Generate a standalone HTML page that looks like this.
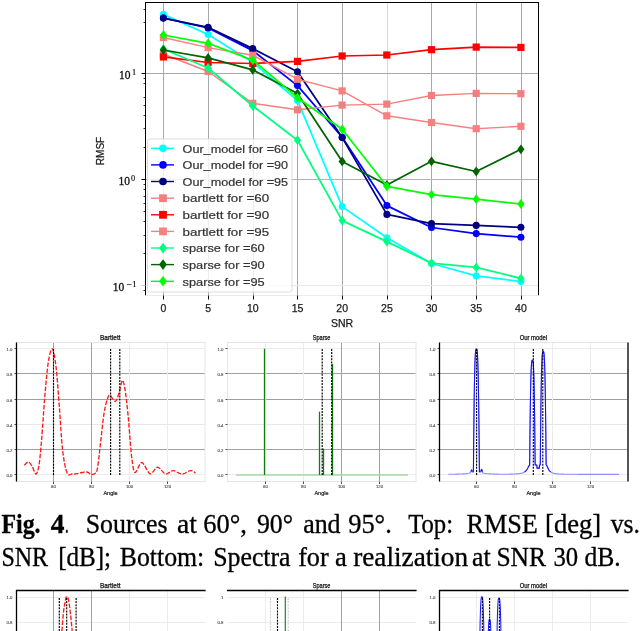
<!DOCTYPE html>
<html><head><meta charset="utf-8"><style>
html,body{margin:0;padding:0;background:#fff;overflow:hidden;}
svg{display:block;will-change:transform;}
.tick{font-family:"Liberation Sans",sans-serif;font-size:10.5px;fill:#1a1a1a;stroke:#1a1a1a;stroke-width:0.25px;}
.leg{font-family:"Liberation Sans",sans-serif;font-size:11.3px;fill:#333;stroke:#333;stroke-width:0.2px;}
.ml{font-family:"Liberation Serif",serif;font-size:11.5px;fill:#111;stroke:#111;stroke-width:0.3px;}
.mls{font-family:"Liberation Serif",serif;font-size:8.3px;fill:#111;stroke:#111;stroke-width:0.2px;}
.tiny{font-family:"Liberation Sans",sans-serif;font-size:4.3px;fill:#444;stroke:#444;stroke-width:0.1px;}
.tiny2{font-family:"Liberation Sans",sans-serif;font-size:5.5px;fill:#222;stroke:#222;stroke-width:0.2px;}
.ttl{font-family:"Liberation Sans",sans-serif;font-size:6.6px;fill:#111;stroke:#111;stroke-width:0.25px;}
.cap{font-family:"Liberation Serif",serif;font-size:26px;fill:#000;stroke:#000;stroke-width:0.3px;}
</style></head><body>
<svg width="640" height="631" viewBox="0 0 640 631">
<defs><clipPath id="clipmain"><rect x="145.5" y="2.5" width="393.0" height="293.0"/></clipPath></defs>
<rect width="640" height="631" fill="#fff"/>
<line x1="163.5" y1="2.5" x2="163.5" y2="295.5" stroke="#a8a8a8" stroke-width="1"/>
<line x1="208.5" y1="2.5" x2="208.5" y2="295.5" stroke="#a8a8a8" stroke-width="1"/>
<line x1="253.5" y1="2.5" x2="253.5" y2="295.5" stroke="#a8a8a8" stroke-width="1"/>
<line x1="297.5" y1="2.5" x2="297.5" y2="295.5" stroke="#a8a8a8" stroke-width="1"/>
<line x1="342.5" y1="2.5" x2="342.5" y2="295.5" stroke="#a8a8a8" stroke-width="1"/>
<line x1="387.5" y1="2.5" x2="387.5" y2="295.5" stroke="#d8d8d8" stroke-width="1"/>
<line x1="431.5" y1="2.5" x2="431.5" y2="295.5" stroke="#a8a8a8" stroke-width="1"/>
<line x1="476.5" y1="2.5" x2="476.5" y2="295.5" stroke="#a8a8a8" stroke-width="1"/>
<line x1="521.5" y1="2.5" x2="521.5" y2="295.5" stroke="#a8a8a8" stroke-width="1"/>
<line x1="145.5" y1="73.5" x2="538.5" y2="73.5" stroke="#a8a8a8" stroke-width="1"/>
<line x1="145.5" y1="179.5" x2="538.5" y2="179.5" stroke="#b4b4b4" stroke-width="1"/>
<line x1="145.5" y1="285.5" x2="538.5" y2="285.5" stroke="#e8e8e8" stroke-width="1"/>
<g clip-path="url(#clipmain)">
<polyline points="163.4,14.4 208.1,34.5 252.8,62.5 297.5,100.6 342.2,206.6 386.9,237.8 431.5,263.5 476.2,275.8 520.9,281.6" fill="none" stroke="#00ffff" stroke-width="1.75" stroke-linejoin="round"/>
<circle cx="163.4" cy="14.4" r="3.53" fill="#00ffff"/>
<circle cx="208.1" cy="34.5" r="3.53" fill="#00ffff"/>
<circle cx="252.8" cy="62.5" r="3.53" fill="#00ffff"/>
<circle cx="297.5" cy="100.6" r="3.53" fill="#00ffff"/>
<circle cx="342.2" cy="206.6" r="3.53" fill="#00ffff"/>
<circle cx="386.9" cy="237.8" r="3.53" fill="#00ffff"/>
<circle cx="431.5" cy="263.5" r="3.53" fill="#00ffff"/>
<circle cx="476.2" cy="275.8" r="3.53" fill="#00ffff"/>
<circle cx="520.9" cy="281.6" r="3.53" fill="#00ffff"/>
<polyline points="163.4,18.0 208.1,28.0 252.8,50.6 297.5,85.6 342.2,137.2 386.9,205.6 431.5,227.5 476.2,233.6 520.9,237.2" fill="none" stroke="#0000ff" stroke-width="1.75" stroke-linejoin="round"/>
<circle cx="163.4" cy="18.0" r="3.53" fill="#0000ff"/>
<circle cx="208.1" cy="28.0" r="3.53" fill="#0000ff"/>
<circle cx="252.8" cy="50.6" r="3.53" fill="#0000ff"/>
<circle cx="297.5" cy="85.6" r="3.53" fill="#0000ff"/>
<circle cx="342.2" cy="137.2" r="3.53" fill="#0000ff"/>
<circle cx="386.9" cy="205.6" r="3.53" fill="#0000ff"/>
<circle cx="431.5" cy="227.5" r="3.53" fill="#0000ff"/>
<circle cx="476.2" cy="233.6" r="3.53" fill="#0000ff"/>
<circle cx="520.9" cy="237.2" r="3.53" fill="#0000ff"/>
<polyline points="163.4,18.1 208.1,27.3 252.8,48.6 297.5,71.8 342.2,137.6 386.9,214.4 431.5,223.6 476.2,225.4 520.9,227.3" fill="none" stroke="#000080" stroke-width="1.75" stroke-linejoin="round"/>
<circle cx="163.4" cy="18.1" r="3.53" fill="#000080"/>
<circle cx="208.1" cy="27.3" r="3.53" fill="#000080"/>
<circle cx="252.8" cy="48.6" r="3.53" fill="#000080"/>
<circle cx="297.5" cy="71.8" r="3.53" fill="#000080"/>
<circle cx="342.2" cy="137.6" r="3.53" fill="#000080"/>
<circle cx="386.9" cy="214.4" r="3.53" fill="#000080"/>
<circle cx="431.5" cy="223.6" r="3.53" fill="#000080"/>
<circle cx="476.2" cy="225.4" r="3.53" fill="#000080"/>
<circle cx="520.9" cy="227.3" r="3.53" fill="#000080"/>
<polyline points="163.4,54.0 208.1,71.5 252.8,103.3 297.5,109.8 342.2,105.1 386.9,104.1 431.5,95.5 476.2,93.4 520.9,93.7" fill="none" stroke="#f08080" stroke-width="1.45" stroke-linejoin="round"/>
<rect x="159.8" y="50.4" width="7.2" height="7.2" fill="#f08080"/>
<rect x="204.5" y="67.9" width="7.2" height="7.2" fill="#f08080"/>
<rect x="249.2" y="99.7" width="7.2" height="7.2" fill="#f08080"/>
<rect x="293.9" y="106.2" width="7.2" height="7.2" fill="#f08080"/>
<rect x="338.5" y="101.5" width="7.2" height="7.2" fill="#f08080"/>
<rect x="383.2" y="100.5" width="7.2" height="7.2" fill="#f08080"/>
<rect x="427.9" y="91.9" width="7.2" height="7.2" fill="#f08080"/>
<rect x="472.6" y="89.8" width="7.2" height="7.2" fill="#f08080"/>
<rect x="517.3" y="90.1" width="7.2" height="7.2" fill="#f08080"/>
<polyline points="163.4,56.9 208.1,62.5 252.8,63.5 297.5,61.4 342.2,56.0 386.9,55.0 431.5,49.7 476.2,47.1 520.9,47.4" fill="none" stroke="#ff0000" stroke-width="1.75" stroke-linejoin="round"/>
<rect x="159.8" y="53.3" width="7.2" height="7.2" fill="#ff0000"/>
<rect x="204.5" y="58.9" width="7.2" height="7.2" fill="#ff0000"/>
<rect x="249.2" y="59.9" width="7.2" height="7.2" fill="#ff0000"/>
<rect x="293.9" y="57.8" width="7.2" height="7.2" fill="#ff0000"/>
<rect x="338.5" y="52.4" width="7.2" height="7.2" fill="#ff0000"/>
<rect x="383.2" y="51.4" width="7.2" height="7.2" fill="#ff0000"/>
<rect x="427.9" y="46.1" width="7.2" height="7.2" fill="#ff0000"/>
<rect x="472.6" y="43.5" width="7.2" height="7.2" fill="#ff0000"/>
<rect x="517.3" y="43.8" width="7.2" height="7.2" fill="#ff0000"/>
<polyline points="163.4,37.5 208.1,47.6 252.8,55.3 297.5,79.2 342.2,90.9 386.9,115.8 431.5,122.5 476.2,128.7 520.9,126.3" fill="none" stroke="#f88080" stroke-width="1.45" stroke-linejoin="round"/>
<rect x="159.8" y="33.9" width="7.2" height="7.2" fill="#f88080"/>
<rect x="204.5" y="44.0" width="7.2" height="7.2" fill="#f88080"/>
<rect x="249.2" y="51.7" width="7.2" height="7.2" fill="#f88080"/>
<rect x="293.9" y="75.6" width="7.2" height="7.2" fill="#f88080"/>
<rect x="338.5" y="87.3" width="7.2" height="7.2" fill="#f88080"/>
<rect x="383.2" y="112.2" width="7.2" height="7.2" fill="#f88080"/>
<rect x="427.9" y="118.9" width="7.2" height="7.2" fill="#f88080"/>
<rect x="472.6" y="125.1" width="7.2" height="7.2" fill="#f88080"/>
<rect x="517.3" y="122.7" width="7.2" height="7.2" fill="#f88080"/>
<polyline points="163.4,49.0 208.1,68.0 252.8,106.0 297.5,140.2 342.2,220.6 386.9,241.6 431.5,263.2 476.2,267.4 520.9,278.4" fill="none" stroke="#00ff7f" stroke-width="1.75" stroke-linejoin="round"/>
<path d="M163.4 44.1L167.0 49.0L163.4 53.9L159.8 49.0Z" fill="#00ff7f"/>
<path d="M208.1 63.1L211.7 68.0L208.1 72.9L204.5 68.0Z" fill="#00ff7f"/>
<path d="M252.8 101.1L256.4 106.0L252.8 110.9L249.2 106.0Z" fill="#00ff7f"/>
<path d="M297.5 135.3L301.1 140.2L297.5 145.1L293.9 140.2Z" fill="#00ff7f"/>
<path d="M342.2 215.7L345.8 220.6L342.2 225.5L338.5 220.6Z" fill="#00ff7f"/>
<path d="M386.9 236.7L390.5 241.6L386.9 246.5L383.2 241.6Z" fill="#00ff7f"/>
<path d="M431.5 258.3L435.1 263.2L431.5 268.1L427.9 263.2Z" fill="#00ff7f"/>
<path d="M476.2 262.5L479.8 267.4L476.2 272.3L472.6 267.4Z" fill="#00ff7f"/>
<path d="M520.9 273.5L524.5 278.4L520.9 283.3L517.3 278.4Z" fill="#00ff7f"/>
<polyline points="163.4,50.0 208.1,57.9 252.8,69.9 297.5,93.5 342.2,161.4 386.9,184.9 431.5,161.3 476.2,171.5 520.9,149.3" fill="none" stroke="#006400" stroke-width="1.75" stroke-linejoin="round"/>
<path d="M163.4 45.1L167.0 50.0L163.4 54.9L159.8 50.0Z" fill="#006400"/>
<path d="M208.1 53.0L211.7 57.9L208.1 62.8L204.5 57.9Z" fill="#006400"/>
<path d="M252.8 65.0L256.4 69.9L252.8 74.8L249.2 69.9Z" fill="#006400"/>
<path d="M297.5 88.6L301.1 93.5L297.5 98.4L293.9 93.5Z" fill="#006400"/>
<path d="M342.2 156.5L345.8 161.4L342.2 166.3L338.5 161.4Z" fill="#006400"/>
<path d="M386.9 180.0L390.5 184.9L386.9 189.8L383.2 184.9Z" fill="#006400"/>
<path d="M431.5 156.4L435.1 161.3L431.5 166.2L427.9 161.3Z" fill="#006400"/>
<path d="M476.2 166.6L479.8 171.5L476.2 176.4L472.6 171.5Z" fill="#006400"/>
<path d="M520.9 144.4L524.5 149.3L520.9 154.2L517.3 149.3Z" fill="#006400"/>
<polyline points="163.4,35.0 208.1,43.3 252.8,60.2 297.5,97.7 342.2,129.3 386.9,186.3 431.5,194.6 476.2,199.2 520.9,204.0" fill="none" stroke="#00ff00" stroke-width="1.75" stroke-linejoin="round"/>
<path d="M163.4 30.1L167.0 35.0L163.4 39.9L159.8 35.0Z" fill="#00ff00"/>
<path d="M208.1 38.4L211.7 43.3L208.1 48.2L204.5 43.3Z" fill="#00ff00"/>
<path d="M252.8 55.3L256.4 60.2L252.8 65.1L249.2 60.2Z" fill="#00ff00"/>
<path d="M297.5 92.8L301.1 97.7L297.5 102.6L293.9 97.7Z" fill="#00ff00"/>
<path d="M342.2 124.4L345.8 129.3L342.2 134.2L338.5 129.3Z" fill="#00ff00"/>
<path d="M386.9 181.4L390.5 186.3L386.9 191.2L383.2 186.3Z" fill="#00ff00"/>
<path d="M431.5 189.7L435.1 194.6L431.5 199.5L427.9 194.6Z" fill="#00ff00"/>
<path d="M476.2 194.3L479.8 199.2L476.2 204.1L472.6 199.2Z" fill="#00ff00"/>
<path d="M520.9 199.1L524.5 204.0L520.9 208.9L517.3 204.0Z" fill="#00ff00"/>
</g>
<rect x="147.5" y="139.0" width="144.5" height="153.0" rx="2.5" fill="#ffffff" fill-opacity="0.8" stroke="#dcdcdc" stroke-width="1"/>
<line x1="151" y1="148.3" x2="174" y2="148.3" stroke="#00ffff" stroke-width="1.4"/>
<circle cx="163.0" cy="148.3" r="3.81" fill="#00ffff"/>
<text x="182.6" y="152.5" class="leg" textLength="105.5" lengthAdjust="spacingAndGlyphs">Our_model for =60</text>
<line x1="151" y1="164.9" x2="174" y2="164.9" stroke="#0000ff" stroke-width="1.4"/>
<circle cx="163.0" cy="164.9" r="3.81" fill="#0000ff"/>
<text x="182.6" y="169.1" class="leg" textLength="105.5" lengthAdjust="spacingAndGlyphs">Our_model for =90</text>
<line x1="151" y1="181.5" x2="174" y2="181.5" stroke="#000080" stroke-width="1.4"/>
<circle cx="163.0" cy="181.5" r="3.81" fill="#000080"/>
<text x="182.6" y="185.7" class="leg" textLength="105.5" lengthAdjust="spacingAndGlyphs">Our_model for =95</text>
<line x1="151" y1="198.2" x2="174" y2="198.2" stroke="#f08080" stroke-width="1.4"/>
<rect x="159.1" y="194.3" width="7.8" height="7.8" fill="#f08080"/>
<text x="182.6" y="202.4" class="leg" textLength="86.5" lengthAdjust="spacingAndGlyphs">bartlett for =60</text>
<line x1="151" y1="214.8" x2="174" y2="214.8" stroke="#ff0000" stroke-width="1.4"/>
<rect x="159.1" y="210.9" width="7.8" height="7.8" fill="#ff0000"/>
<text x="182.6" y="219.0" class="leg" textLength="86.5" lengthAdjust="spacingAndGlyphs">bartlett for =90</text>
<line x1="151" y1="231.4" x2="174" y2="231.4" stroke="#f88080" stroke-width="1.4"/>
<rect x="159.1" y="227.5" width="7.8" height="7.8" fill="#f88080"/>
<text x="182.6" y="235.6" class="leg" textLength="86.5" lengthAdjust="spacingAndGlyphs">bartlett for =95</text>
<line x1="151" y1="248.0" x2="174" y2="248.0" stroke="#00ff7f" stroke-width="1.4"/>
<path d="M163.0 242.7L166.9 248.0L163.0 253.4L159.1 248.0Z" fill="#00ff7f"/>
<text x="182.6" y="252.2" class="leg" textLength="82.0" lengthAdjust="spacingAndGlyphs">sparse for =60</text>
<line x1="151" y1="264.6" x2="174" y2="264.6" stroke="#006400" stroke-width="1.4"/>
<path d="M163.0 259.3L166.9 264.6L163.0 270.0L159.1 264.6Z" fill="#006400"/>
<text x="182.6" y="268.8" class="leg" textLength="82.0" lengthAdjust="spacingAndGlyphs">sparse for =90</text>
<line x1="151" y1="281.3" x2="174" y2="281.3" stroke="#00ff00" stroke-width="1.4"/>
<path d="M163.0 275.9L166.9 281.3L163.0 286.6L159.1 281.3Z" fill="#00ff00"/>
<text x="182.6" y="285.5" class="leg" textLength="82.0" lengthAdjust="spacingAndGlyphs">sparse for =95</text>
<line x1="145.0" y1="2.5" x2="539.0" y2="2.5" stroke="#000" stroke-width="1"/>
<line x1="145.5" y1="2.5" x2="145.5" y2="295.5" stroke="#000" stroke-width="1"/>
<line x1="538.5" y1="2.5" x2="538.5" y2="295.5" stroke="#000" stroke-width="1"/>
<line x1="145.5" y1="295.5" x2="538.5" y2="295.5" stroke="#ececec" stroke-width="1"/>
<line x1="163.5" y1="295.5" x2="163.5" y2="299.5" stroke="#000" stroke-width="1"/>
<text x="163.4" y="311.6" class="tick" text-anchor="middle">0</text>
<line x1="208.5" y1="295.5" x2="208.5" y2="299.5" stroke="#000" stroke-width="1"/>
<text x="208.1" y="311.6" class="tick" text-anchor="middle">5</text>
<line x1="253.5" y1="295.5" x2="253.5" y2="299.5" stroke="#000" stroke-width="1"/>
<text x="252.8" y="311.6" class="tick" text-anchor="middle">10</text>
<line x1="297.5" y1="295.5" x2="297.5" y2="299.5" stroke="#000" stroke-width="1"/>
<text x="297.5" y="311.6" class="tick" text-anchor="middle">15</text>
<line x1="342.5" y1="295.5" x2="342.5" y2="299.5" stroke="#000" stroke-width="1"/>
<text x="342.2" y="311.6" class="tick" text-anchor="middle">20</text>
<line x1="387.5" y1="295.5" x2="387.5" y2="299.5" stroke="#000" stroke-width="1"/>
<text x="386.9" y="311.6" class="tick" text-anchor="middle">25</text>
<line x1="431.5" y1="295.5" x2="431.5" y2="299.5" stroke="#000" stroke-width="1"/>
<text x="431.5" y="311.6" class="tick" text-anchor="middle">30</text>
<line x1="476.5" y1="295.5" x2="476.5" y2="299.5" stroke="#000" stroke-width="1"/>
<text x="476.2" y="311.6" class="tick" text-anchor="middle">35</text>
<line x1="521.5" y1="295.5" x2="521.5" y2="299.5" stroke="#000" stroke-width="1"/>
<text x="520.9" y="311.6" class="tick" text-anchor="middle">40</text>
<text x="342" y="327.3" class="tick" text-anchor="middle">SNR</text>
<line x1="141.5" y1="73.5" x2="145.5" y2="73.5" stroke="#000" stroke-width="1"/>
<line x1="141.5" y1="179.5" x2="145.5" y2="179.5" stroke="#000" stroke-width="1"/>
<line x1="141.5" y1="285.5" x2="145.5" y2="285.5" stroke="#c8c8c8" stroke-width="1"/>
<line x1="143.5" y1="22.5" x2="145.5" y2="22.5" stroke="#000" stroke-width="0.8"/>
<line x1="143.5" y1="9.5" x2="145.5" y2="9.5" stroke="#000" stroke-width="0.8"/>
<line x1="143.5" y1="147.5" x2="145.5" y2="147.5" stroke="#000" stroke-width="0.8"/>
<line x1="143.5" y1="128.5" x2="145.5" y2="128.5" stroke="#000" stroke-width="0.8"/>
<line x1="143.5" y1="115.5" x2="145.5" y2="115.5" stroke="#000" stroke-width="0.8"/>
<line x1="143.5" y1="105.5" x2="145.5" y2="105.5" stroke="#000" stroke-width="0.8"/>
<line x1="143.5" y1="97.5" x2="145.5" y2="97.5" stroke="#000" stroke-width="0.8"/>
<line x1="143.5" y1="83.5" x2="145.5" y2="83.5" stroke="#000" stroke-width="0.8"/>
<line x1="143.5" y1="78.5" x2="145.5" y2="78.5" stroke="#000" stroke-width="0.8"/>
<line x1="143.5" y1="253.5" x2="145.5" y2="253.5" stroke="#000" stroke-width="0.8"/>
<line x1="143.5" y1="235.5" x2="145.5" y2="235.5" stroke="#000" stroke-width="0.8"/>
<line x1="143.5" y1="221.5" x2="145.5" y2="221.5" stroke="#000" stroke-width="0.8"/>
<line x1="143.5" y1="211.5" x2="145.5" y2="211.5" stroke="#000" stroke-width="0.8"/>
<line x1="143.5" y1="203.5" x2="145.5" y2="203.5" stroke="#000" stroke-width="0.8"/>
<line x1="143.5" y1="196.5" x2="145.5" y2="196.5" stroke="#000" stroke-width="0.8"/>
<line x1="143.5" y1="189.5" x2="145.5" y2="189.5" stroke="#000" stroke-width="0.8"/>
<line x1="143.5" y1="184.5" x2="145.5" y2="184.5" stroke="#000" stroke-width="0.8"/>
<line x1="143.5" y1="290.5" x2="145.5" y2="290.5" stroke="#000" stroke-width="0.8"/>
<text x="119" y="79" class="ml" textLength="11.5" lengthAdjust="spacingAndGlyphs">10</text><text x="132" y="75" class="mls">1</text>
<text x="118.5" y="185" class="ml" textLength="11.5" lengthAdjust="spacingAndGlyphs">10</text><text x="131" y="180.6" class="mls">0</text>
<text x="112.8" y="290.8" class="ml" textLength="11.5" lengthAdjust="spacingAndGlyphs">10</text><text x="126.8" y="287.3" class="mls" textLength="10" lengthAdjust="spacingAndGlyphs">−1</text>
<text transform="translate(104,151) rotate(-90)" class="tick" text-anchor="middle" textLength="28.5" lengthAdjust="spacingAndGlyphs">RMSF</text>
<line x1="16.5" y1="348.5" x2="205.0" y2="348.5" stroke="#ececec" stroke-width="1"/>
<line x1="16.5" y1="373.5" x2="205.0" y2="373.5" stroke="#a0a0a0" stroke-width="1"/>
<line x1="16.5" y1="399.5" x2="205.0" y2="399.5" stroke="#a0a0a0" stroke-width="1"/>
<line x1="16.5" y1="424.5" x2="205.0" y2="424.5" stroke="#e8e8e8" stroke-width="1"/>
<line x1="16.5" y1="449.5" x2="205.0" y2="449.5" stroke="#a0a0a0" stroke-width="1"/>
<line x1="16.5" y1="474.5" x2="205.0" y2="474.5" stroke="#ececec" stroke-width="1"/>
<line x1="53.5" y1="342.5" x2="53.5" y2="481.5" stroke="#a0a0a0" stroke-width="1"/>
<line x1="91.5" y1="342.5" x2="91.5" y2="481.5" stroke="#a0a0a0" stroke-width="1"/>
<line x1="129.5" y1="342.5" x2="129.5" y2="481.5" stroke="#ececec" stroke-width="1"/>
<line x1="167.5" y1="342.5" x2="167.5" y2="481.5" stroke="#ececec" stroke-width="1"/>
<rect x="16.5" y="342.5" width="188.5" height="139.0" fill="none" stroke="#e6e6e6" stroke-width="1"/>
<text x="12.5" y="350.7" class="tiny" text-anchor="end">1.0</text>
<line x1="14.5" y1="348.5" x2="16.5" y2="348.5" stroke="#000" stroke-width="0.7"/>
<text x="12.5" y="375.7" class="tiny" text-anchor="end">0.8</text>
<line x1="14.5" y1="373.5" x2="16.5" y2="373.5" stroke="#000" stroke-width="0.7"/>
<text x="12.5" y="401.7" class="tiny" text-anchor="end">0.6</text>
<line x1="14.5" y1="399.5" x2="16.5" y2="399.5" stroke="#000" stroke-width="0.7"/>
<text x="12.5" y="426.7" class="tiny" text-anchor="end">0.4</text>
<line x1="14.5" y1="424.5" x2="16.5" y2="424.5" stroke="#000" stroke-width="0.7"/>
<text x="12.5" y="451.7" class="tiny" text-anchor="end">0.2</text>
<line x1="14.5" y1="449.5" x2="16.5" y2="449.5" stroke="#000" stroke-width="0.7"/>
<text x="12.5" y="476.7" class="tiny" text-anchor="end">0.0</text>
<line x1="14.5" y1="474.5" x2="16.5" y2="474.5" stroke="#000" stroke-width="0.7"/>
<text x="53.5" y="487.8" class="tiny" text-anchor="middle">60</text>
<line x1="53.5" y1="481.5" x2="53.5" y2="484" stroke="#000" stroke-width="0.7"/>
<text x="91.5" y="487.8" class="tiny" text-anchor="middle">80</text>
<line x1="91.5" y1="481.5" x2="91.5" y2="484" stroke="#000" stroke-width="0.7"/>
<text x="129.5" y="487.8" class="tiny" text-anchor="middle">100</text>
<line x1="129.5" y1="481.5" x2="129.5" y2="484" stroke="#000" stroke-width="0.7"/>
<text x="167.5" y="487.8" class="tiny" text-anchor="middle">120</text>
<line x1="167.5" y1="481.5" x2="167.5" y2="484" stroke="#000" stroke-width="0.7"/>
<text x="110.5" y="495" class="tiny2" text-anchor="middle">Angle</text>
<line x1="227.5" y1="348.5" x2="416.0" y2="348.5" stroke="#ececec" stroke-width="1"/>
<line x1="227.5" y1="373.5" x2="416.0" y2="373.5" stroke="#a0a0a0" stroke-width="1"/>
<line x1="227.5" y1="399.5" x2="416.0" y2="399.5" stroke="#a0a0a0" stroke-width="1"/>
<line x1="227.5" y1="424.5" x2="416.0" y2="424.5" stroke="#e8e8e8" stroke-width="1"/>
<line x1="227.5" y1="449.5" x2="416.0" y2="449.5" stroke="#a0a0a0" stroke-width="1"/>
<line x1="227.5" y1="474.5" x2="416.0" y2="474.5" stroke="#ececec" stroke-width="1"/>
<line x1="265.5" y1="342.5" x2="265.5" y2="481.5" stroke="#ececec" stroke-width="1"/>
<line x1="303.5" y1="342.5" x2="303.5" y2="481.5" stroke="#ececec" stroke-width="1"/>
<line x1="341.5" y1="342.5" x2="341.5" y2="481.5" stroke="#a0a0a0" stroke-width="1"/>
<line x1="379.5" y1="342.5" x2="379.5" y2="481.5" stroke="#a0a0a0" stroke-width="1"/>
<rect x="227.5" y="342.5" width="188.5" height="139.0" fill="none" stroke="#e6e6e6" stroke-width="1"/>
<text x="223.5" y="350.7" class="tiny" text-anchor="end">1.0</text>
<line x1="225.5" y1="348.5" x2="227.5" y2="348.5" stroke="#000" stroke-width="0.7"/>
<text x="223.5" y="375.7" class="tiny" text-anchor="end">0.8</text>
<line x1="225.5" y1="373.5" x2="227.5" y2="373.5" stroke="#000" stroke-width="0.7"/>
<text x="223.5" y="401.7" class="tiny" text-anchor="end">0.6</text>
<line x1="225.5" y1="399.5" x2="227.5" y2="399.5" stroke="#000" stroke-width="0.7"/>
<text x="223.5" y="426.7" class="tiny" text-anchor="end">0.4</text>
<line x1="225.5" y1="424.5" x2="227.5" y2="424.5" stroke="#000" stroke-width="0.7"/>
<text x="223.5" y="451.7" class="tiny" text-anchor="end">0.2</text>
<line x1="225.5" y1="449.5" x2="227.5" y2="449.5" stroke="#000" stroke-width="0.7"/>
<text x="223.5" y="476.7" class="tiny" text-anchor="end">0.0</text>
<line x1="225.5" y1="474.5" x2="227.5" y2="474.5" stroke="#000" stroke-width="0.7"/>
<text x="265.5" y="487.8" class="tiny" text-anchor="middle">60</text>
<line x1="265.5" y1="481.5" x2="265.5" y2="484" stroke="#000" stroke-width="0.7"/>
<text x="303.5" y="487.8" class="tiny" text-anchor="middle">80</text>
<line x1="303.5" y1="481.5" x2="303.5" y2="484" stroke="#000" stroke-width="0.7"/>
<text x="341.5" y="487.8" class="tiny" text-anchor="middle">100</text>
<line x1="341.5" y1="481.5" x2="341.5" y2="484" stroke="#000" stroke-width="0.7"/>
<text x="379.5" y="487.8" class="tiny" text-anchor="middle">120</text>
<line x1="379.5" y1="481.5" x2="379.5" y2="484" stroke="#000" stroke-width="0.7"/>
<text x="321.5" y="495" class="tiny2" text-anchor="middle">Angle</text>
<line x1="439.5" y1="348.5" x2="628.0" y2="348.5" stroke="#ececec" stroke-width="1"/>
<line x1="439.5" y1="373.5" x2="628.0" y2="373.5" stroke="#a0a0a0" stroke-width="1"/>
<line x1="439.5" y1="399.5" x2="628.0" y2="399.5" stroke="#a0a0a0" stroke-width="1"/>
<line x1="439.5" y1="424.5" x2="628.0" y2="424.5" stroke="#e8e8e8" stroke-width="1"/>
<line x1="439.5" y1="449.5" x2="628.0" y2="449.5" stroke="#a0a0a0" stroke-width="1"/>
<line x1="439.5" y1="474.5" x2="628.0" y2="474.5" stroke="#ececec" stroke-width="1"/>
<line x1="476.5" y1="342.5" x2="476.5" y2="481.5" stroke="#ececec" stroke-width="1"/>
<line x1="514.5" y1="342.5" x2="514.5" y2="481.5" stroke="#ececec" stroke-width="1"/>
<line x1="552.5" y1="342.5" x2="552.5" y2="481.5" stroke="#ececec" stroke-width="1"/>
<line x1="590.5" y1="342.5" x2="590.5" y2="481.5" stroke="#ececec" stroke-width="1"/>
<rect x="439.5" y="342.5" width="188.5" height="139.0" fill="none" stroke="#e6e6e6" stroke-width="1"/>
<text x="435.5" y="350.7" class="tiny" text-anchor="end">1.0</text>
<line x1="437.5" y1="348.5" x2="439.5" y2="348.5" stroke="#000" stroke-width="0.7"/>
<text x="435.5" y="375.7" class="tiny" text-anchor="end">0.8</text>
<line x1="437.5" y1="373.5" x2="439.5" y2="373.5" stroke="#000" stroke-width="0.7"/>
<text x="435.5" y="401.7" class="tiny" text-anchor="end">0.6</text>
<line x1="437.5" y1="399.5" x2="439.5" y2="399.5" stroke="#000" stroke-width="0.7"/>
<text x="435.5" y="426.7" class="tiny" text-anchor="end">0.4</text>
<line x1="437.5" y1="424.5" x2="439.5" y2="424.5" stroke="#000" stroke-width="0.7"/>
<text x="435.5" y="451.7" class="tiny" text-anchor="end">0.2</text>
<line x1="437.5" y1="449.5" x2="439.5" y2="449.5" stroke="#000" stroke-width="0.7"/>
<text x="435.5" y="476.7" class="tiny" text-anchor="end">0.0</text>
<line x1="437.5" y1="474.5" x2="439.5" y2="474.5" stroke="#000" stroke-width="0.7"/>
<text x="476.5" y="487.8" class="tiny" text-anchor="middle">60</text>
<line x1="476.5" y1="481.5" x2="476.5" y2="484" stroke="#000" stroke-width="0.7"/>
<text x="514.5" y="487.8" class="tiny" text-anchor="middle">80</text>
<line x1="514.5" y1="481.5" x2="514.5" y2="484" stroke="#000" stroke-width="0.7"/>
<text x="552.5" y="487.8" class="tiny" text-anchor="middle">100</text>
<line x1="552.5" y1="481.5" x2="552.5" y2="484" stroke="#000" stroke-width="0.7"/>
<text x="590.5" y="487.8" class="tiny" text-anchor="middle">120</text>
<line x1="590.5" y1="481.5" x2="590.5" y2="484" stroke="#000" stroke-width="0.7"/>
<text x="533.5" y="495" class="tiny2" text-anchor="middle">Angle</text>
<line x1="16.5" y1="342.5" x2="16.5" y2="481.5" stroke="#000" stroke-width="1.3"/>
<line x1="439.5" y1="342.5" x2="439.5" y2="481.5" stroke="#000" stroke-width="1.3"/>
<line x1="628" y1="342.5" x2="628" y2="481.5" stroke="#000" stroke-width="1.3"/>
<text x="110.3" y="340" class="ttl" text-anchor="middle" textLength="20.6" lengthAdjust="spacingAndGlyphs">Bartlett</text>
<text x="321.6" y="340" class="ttl" text-anchor="middle" textLength="17.7" lengthAdjust="spacingAndGlyphs">Sparse</text>
<text x="533.4" y="340" class="ttl" text-anchor="middle" textLength="27.4" lengthAdjust="spacingAndGlyphs">Our model</text>
<path d="M24.30 465.30C24.97 464.75 27.02 461.88 28.30 462.00C29.58 462.12 30.72 463.98 32.00 466.00C33.28 468.02 34.83 474.27 36.00 474.10C37.17 473.93 38.07 470.72 39.00 465.00C39.93 459.28 40.62 451.40 41.60 439.80C42.58 428.20 43.78 408.33 44.90 395.40C46.02 382.47 47.07 369.95 48.30 362.20C49.53 354.45 51.02 348.17 52.30 348.90C53.58 349.63 54.83 357.00 56.00 366.60C57.17 376.20 58.18 392.45 59.30 406.50C60.42 420.55 61.40 439.82 62.70 450.90C64.00 461.98 65.55 469.15 67.10 473.00C68.65 476.85 70.35 473.90 72.00 474.00C73.65 474.10 75.33 473.85 77.00 473.60C78.67 473.35 80.33 472.77 82.00 472.50C83.67 472.23 85.50 471.72 87.00 472.00C88.50 472.28 89.67 473.95 91.00 474.20C92.33 474.45 93.92 474.53 95.00 473.50C96.08 472.47 96.58 473.03 97.50 468.00C98.42 462.97 99.42 452.37 100.50 443.30C101.58 434.23 102.83 421.02 104.00 413.60C105.17 406.18 106.50 401.85 107.50 398.80C108.50 395.75 108.70 394.87 110.00 395.30C111.30 395.73 113.80 401.78 115.30 401.40C116.80 401.02 117.83 396.48 119.00 393.00C120.17 389.52 121.33 381.33 122.30 380.50C123.27 379.67 124.08 384.52 124.80 388.00C125.52 391.48 125.98 396.07 126.60 401.40C127.22 406.73 127.92 413.60 128.50 420.00C129.08 426.40 129.53 433.34 130.10 439.80C130.67 446.26 131.08 453.30 131.90 458.75C132.72 464.20 133.33 471.88 135.00 472.50C136.67 473.12 139.40 462.29 141.90 462.50C144.40 462.71 147.40 472.96 150.00 473.75C152.60 474.54 154.90 467.21 157.50 467.25C160.10 467.29 163.00 473.44 165.60 474.00C168.20 474.56 170.38 470.60 173.10 470.60C175.82 470.60 178.98 474.00 181.90 474.00C184.82 474.00 188.32 470.75 190.60 470.60C192.88 470.45 194.77 472.68 195.60 473.10" fill="none" stroke="#ff1a1a" stroke-width="1.35" stroke-dasharray="4.5,1.6" />
<line x1="236" y1="475" x2="408" y2="475" stroke="#a6daa6" stroke-width="1.6"/>
<line x1="264.5" y1="348.7" x2="264.5" y2="475" stroke="#0f7f0f" stroke-width="1.3"/>
<line x1="319.5" y1="411.6" x2="319.5" y2="475" stroke="#0f7f0f" stroke-width="1.3"/>
<line x1="323.5" y1="448.6" x2="323.5" y2="475" stroke="#0f7f0f" stroke-width="1.3"/>
<line x1="332.5" y1="364.0" x2="332.5" y2="475" stroke="#0f7f0f" stroke-width="1.3"/>
<polyline points="448.30,474.27 449.30,474.26 450.30,474.25 451.30,474.24 452.30,474.23 453.30,474.21 454.30,474.20 455.30,474.18 456.30,474.16 457.30,474.13 458.30,474.10 459.30,474.07 460.30,474.03 461.30,473.99 462.30,473.94 463.30,473.87 464.30,473.80 465.30,473.71 466.30,473.60 467.30,473.46 468.30,473.29 469.30,473.08 469.40,473.06 469.50,473.03 469.60,473.01 469.70,472.99 469.80,472.96 469.90,472.93 470.00,472.91 470.10,472.88 470.20,472.85 470.30,472.82 470.40,472.80 470.50,472.77 470.60,472.74 470.70,472.45 470.80,472.08 470.90,471.71 471.00,471.34 471.10,470.98 471.20,470.66 471.30,470.39 471.40,470.18 471.50,470.05 471.60,470.01 471.70,470.05 471.80,470.18 471.90,470.39 472.00,470.66 472.10,470.98 472.20,471.34 472.30,471.71 472.40,472.08 472.50,472.06 472.60,472.02 472.70,471.98 472.80,471.94 472.90,471.90 473.00,471.86 473.10,471.82 473.20,471.77 473.30,471.73 473.40,471.69 473.50,462.26 473.60,450.94 473.70,440.39 473.80,430.60 473.90,421.53 474.00,413.16 474.10,405.45 474.20,398.39 474.30,391.95 474.40,386.09 474.50,380.78 474.60,376.01 474.70,371.74 474.80,367.94 474.90,364.59 475.00,361.65 475.10,359.11 475.20,356.93 475.30,355.09 475.40,353.55 475.50,352.29 475.60,351.28 475.70,350.49 475.80,349.90 475.90,349.48 476.00,349.20 476.10,349.03 476.20,348.94 476.30,348.90 476.40,348.90 476.50,348.90 476.60,348.94 476.70,349.03 476.80,349.20 476.90,349.48 477.00,349.90 477.10,350.49 477.20,351.28 477.30,352.29 477.40,353.55 477.50,355.09 477.60,356.93 477.70,359.11 477.80,361.65 477.90,364.59 478.00,367.94 478.10,371.74 478.20,376.01 478.30,380.78 478.40,386.09 478.50,391.95 478.60,398.39 478.70,405.45 478.80,413.16 478.90,421.53 479.00,430.60 479.10,440.39 479.20,450.94 479.30,462.26 479.40,471.69 479.50,471.73 479.60,471.77 479.70,471.82 479.80,471.86 479.90,471.90 480.00,471.94 480.10,471.98 480.20,472.02 480.30,472.06 480.40,472.10 480.50,472.14 480.60,472.18 480.70,472.17 480.80,471.75 480.90,471.32 481.00,470.90 481.10,470.49 481.20,470.12 481.30,469.81 481.40,469.58 481.50,469.43 481.60,469.38 481.70,469.43 481.80,469.58 481.90,469.81 482.00,470.12 482.10,470.49 482.20,470.90 482.30,471.32 482.40,471.75 482.50,472.17 482.60,472.55 482.70,472.88 482.80,472.91 482.90,472.93 483.00,472.96 483.10,472.99 483.20,473.01 483.30,473.03 483.40,473.06 483.50,473.08 483.60,473.11 483.70,473.13 483.80,473.15 483.90,473.17 484.00,473.19 484.10,473.21 484.20,473.23 484.30,473.25 485.30,473.43 486.30,473.57 487.30,473.69 488.30,473.78 489.30,473.86 490.30,473.92 491.30,473.98 492.30,474.02 493.30,474.06 494.30,474.10 495.30,474.13 496.30,474.15 497.30,474.17 498.30,474.19 499.30,474.21 500.30,474.22 501.30,474.24 502.30,474.25 503.30,474.26 504.30,474.26 505.30,474.24 506.30,474.23 507.30,474.22 508.30,474.20 509.30,474.18 510.30,474.16 511.30,474.13 512.30,474.10 513.30,474.07 514.30,474.02 515.30,473.97 516.30,473.91 517.30,473.84 518.30,473.74 519.30,473.63 520.30,473.48 520.40,473.46 520.50,473.44 520.60,473.42 520.70,473.40 520.80,473.38 520.90,473.36 521.00,473.34 521.10,473.32 521.20,473.30 521.30,473.28 521.40,473.26 521.50,473.23 521.60,473.21 521.70,473.18 521.80,473.16 521.90,473.13 522.00,473.10 522.10,473.07 522.20,473.04 522.30,473.01 522.40,472.98 522.50,472.95 522.60,472.92 522.70,472.88 522.80,472.85 522.90,472.81 523.00,472.77 523.10,472.73 523.20,472.69 523.30,472.65 523.40,472.61 523.50,472.56 523.60,472.52 523.70,472.47 523.80,472.42 523.90,472.37 524.00,472.32 524.10,472.26 524.20,472.20 524.30,472.14 524.40,472.08 524.50,472.02 524.60,471.95 524.70,471.89 524.80,471.81 524.90,471.74 525.00,471.66 525.10,471.59 525.20,471.50 525.30,471.42 525.40,471.33 525.50,471.24 525.60,471.14 525.70,471.05 525.80,470.94 525.90,470.84 526.00,470.73 526.10,470.61 526.20,470.49 526.30,470.37 526.40,470.25 526.50,470.11 526.60,469.98 526.70,469.84 526.80,469.69 526.90,469.54 527.00,469.39 527.10,469.23 527.20,469.07 527.30,468.90 527.40,468.73 527.50,468.56 527.60,468.38 527.70,468.19 527.80,468.01 527.90,467.82 528.00,467.63 528.10,467.44 528.20,467.25 528.30,467.06 528.40,466.87 528.50,466.68 528.60,466.50 528.70,466.32 528.80,466.15 528.90,465.98 529.00,465.82 529.10,465.68 529.20,465.54 529.30,465.42 529.40,465.31 529.50,465.21 529.60,465.13 529.70,462.60 529.80,451.63 529.90,441.48 530.00,432.11 530.10,423.49 530.20,415.59 530.30,408.38 530.40,401.81 530.50,395.88 530.60,390.54 530.70,385.75 530.80,381.50 530.90,377.75 531.00,374.47 531.10,371.62 531.20,369.18 531.30,367.12 531.40,365.40 531.50,363.99 531.60,362.86 531.70,361.98 531.80,361.32 531.90,360.85 532.00,360.53 532.10,360.34 532.20,360.24 532.30,360.20 532.40,360.19 532.50,360.20 532.60,360.24 532.70,360.34 532.80,360.53 532.90,360.85 533.00,361.32 533.10,361.98 533.20,362.86 533.30,363.99 533.40,365.40 533.50,367.12 533.60,369.18 533.70,371.62 533.80,374.47 533.90,377.75 534.00,381.50 534.10,385.75 534.20,390.54 534.30,395.88 534.40,401.81 534.50,408.38 534.60,415.59 534.70,423.49 534.80,432.11 534.90,441.48 535.00,451.63 535.10,462.60 535.20,464.99 535.30,464.99 535.40,464.99 535.50,464.99 535.60,464.99 535.70,464.99 535.80,464.99 535.90,464.99 536.00,464.99 536.10,464.99 536.20,464.99 536.30,464.99 536.40,464.99 536.50,464.99 536.60,464.99 536.70,464.99 536.80,464.99 536.90,464.99 537.00,468.12 537.10,468.12 537.20,468.12 537.30,468.12 537.40,468.12 537.50,468.12 537.60,468.12 537.70,468.12 537.80,468.12 537.90,468.12 538.00,468.12 538.10,468.12 538.20,468.12 538.30,468.12 538.40,468.12 538.50,468.12 538.60,468.12 538.70,468.12 538.80,468.12 538.90,468.12 539.00,468.12 539.10,468.12 539.20,468.12 539.30,468.12 539.40,468.12 539.50,464.99 539.60,464.99 539.70,464.99 539.80,464.99 539.90,464.99 540.00,464.99 540.10,464.99 540.20,464.99 540.30,462.51 540.40,451.41 540.50,441.07 540.60,431.47 540.70,422.58 540.80,414.38 540.90,406.83 541.00,399.91 541.10,393.60 541.20,387.85 541.30,382.65 541.40,377.98 541.50,373.79 541.60,370.07 541.70,366.78 541.80,363.91 541.90,361.42 542.00,359.28 542.10,357.47 542.20,355.97 542.30,354.73 542.40,353.74 542.50,352.97 542.60,352.39 542.70,351.98 542.80,351.70 542.90,351.53 543.00,351.45 543.10,351.41 543.20,351.41 543.30,351.41 543.40,351.45 543.50,351.53 543.60,351.70 543.70,351.98 543.80,352.39 543.90,352.97 544.00,353.74 544.10,354.73 544.20,355.97 544.30,357.47 544.40,359.28 544.50,361.42 544.60,363.91 544.70,366.78 544.80,370.07 544.90,373.79 545.00,377.98 545.10,382.65 545.20,387.85 545.30,393.60 545.40,399.91 545.50,406.83 545.60,414.38 545.70,422.58 545.80,431.47 545.90,441.07 546.00,451.41 546.10,462.51 546.20,465.04 546.30,465.09 546.40,465.18 546.50,465.28 546.60,465.40 546.70,465.54 546.80,465.70 546.90,465.87 547.00,466.05 547.10,466.25 547.20,466.45 547.30,466.66 547.40,466.87 547.50,467.09 547.60,467.30 547.70,467.52 547.80,467.74 547.90,467.96 548.00,468.17 548.10,468.38 548.20,468.58 548.30,468.78 548.40,468.97 548.50,469.16 548.60,469.35 548.70,469.52 548.80,469.69 548.90,469.86 549.00,470.02 549.10,470.17 549.20,470.32 549.30,470.46 549.40,470.60 549.50,470.73 549.60,470.85 549.70,470.97 549.80,471.09 549.90,471.20 550.00,471.30 550.10,471.41 550.20,471.50 550.30,471.60 550.40,471.69 550.50,471.77 550.60,471.86 550.70,471.93 550.80,472.01 550.90,472.08 551.00,472.15 551.10,472.22 551.20,472.28 551.30,472.35 551.40,472.41 551.50,472.46 551.60,472.52 551.70,472.57 551.80,472.62 551.90,472.67 552.00,472.72 552.10,472.76 552.20,472.81 552.30,472.85 552.40,472.89 552.50,472.93 552.60,472.96 552.70,473.00 552.80,473.04 552.90,473.07 553.00,473.10 553.10,473.13 553.20,473.16 553.30,473.19 553.40,473.22 553.50,473.25 553.60,473.28 553.70,473.30 553.80,473.33 553.90,473.35 554.00,473.37 554.10,473.40 554.20,473.42 554.30,473.44 554.40,473.46 554.50,473.48 554.60,473.50 554.70,473.52 554.80,473.53 554.90,473.55 555.00,473.57 555.10,473.59 555.20,473.60 555.30,473.62 555.40,473.63 555.50,473.65 555.60,473.66 555.70,473.68 555.80,473.69 555.90,473.70 556.00,473.72 557.00,473.83 558.00,473.91 559.00,473.98 560.00,474.04 561.00,474.08 562.00,474.12 563.00,474.15 564.00,474.18 565.00,474.20 566.00,474.22 567.00,474.24 568.00,474.25 569.00,474.26 570.00,474.27 571.00,474.28 572.00,474.29 573.00,474.30 574.00,474.31 575.00,474.31 576.00,474.32 577.00,474.32 578.00,474.33 579.00,474.33 580.00,474.34 581.00,474.34 582.00,474.34 583.00,474.35 584.00,474.35 585.00,474.35 586.00,474.35 587.00,474.36 588.00,474.36 589.00,474.36 590.00,474.36 591.00,474.36 592.00,474.37 593.00,474.37 594.00,474.37 595.00,474.37 596.00,474.37 597.00,474.37 598.00,474.37 599.00,474.37 600.00,474.37 601.00,474.38 602.00,474.38 603.00,474.38 604.00,474.38 605.00,474.38 606.00,474.38 607.00,474.38 608.00,474.38 609.00,474.38 610.00,474.38 611.00,474.38 612.00,474.38 613.00,474.38 614.00,474.38 615.00,474.38 616.00,474.38 617.00,474.39 618.00,474.39 619.00,474.39" fill="none" stroke="#8c8cff" stroke-width="1.1" stroke-linejoin="round" />
<polyline points="470.90,471.71 471.00,471.34 471.10,470.98 471.20,470.66 471.30,470.39 471.40,470.18 471.50,470.05 471.60,470.01 471.70,470.05 471.80,470.18 471.90,470.39 472.00,470.66 472.10,470.98 472.20,471.34 472.30,471.71" fill="none" stroke="#1010ff" stroke-width="1.05" stroke-linejoin="round" />
<polyline points="472.70,471.98 472.80,471.94 472.90,471.90 473.00,471.86 473.10,471.82 473.20,471.77 473.30,471.73 473.40,471.69 473.50,462.26 473.60,450.94 473.70,440.39 473.80,430.60 473.90,421.53 474.00,413.16 474.10,405.45 474.20,398.39 474.30,391.95 474.40,386.09 474.50,380.78 474.60,376.01 474.70,371.74 474.80,367.94 474.90,364.59 475.00,361.65 475.10,359.11 475.20,356.93 475.30,355.09 475.40,353.55 475.50,352.29 475.60,351.28 475.70,350.49 475.80,349.90 475.90,349.48 476.00,349.20 476.10,349.03 476.20,348.94 476.30,348.90 476.40,348.90 476.50,348.90 476.60,348.94 476.70,349.03 476.80,349.20 476.90,349.48 477.00,349.90 477.10,350.49 477.20,351.28 477.30,352.29 477.40,353.55 477.50,355.09 477.60,356.93 477.70,359.11 477.80,361.65 477.90,364.59 478.00,367.94 478.10,371.74 478.20,376.01 478.30,380.78 478.40,386.09 478.50,391.95 478.60,398.39 478.70,405.45 478.80,413.16 478.90,421.53 479.00,430.60 479.10,440.39 479.20,450.94 479.30,462.26 479.40,471.69 479.50,471.73 479.60,471.77 479.70,471.82 479.80,471.86 479.90,471.90 480.00,471.94 480.10,471.98" fill="none" stroke="#1010ff" stroke-width="1.05" stroke-linejoin="round" />
<polyline points="480.80,471.75 480.90,471.32 481.00,470.90 481.10,470.49 481.20,470.12 481.30,469.81 481.40,469.58 481.50,469.43 481.60,469.38 481.70,469.43 481.80,469.58 481.90,469.81 482.00,470.12 482.10,470.49 482.20,470.90 482.30,471.32 482.40,471.75" fill="none" stroke="#1010ff" stroke-width="1.05" stroke-linejoin="round" />
<polyline points="524.60,471.95 524.70,471.89 524.80,471.81 524.90,471.74 525.00,471.66 525.10,471.59 525.20,471.50 525.30,471.42 525.40,471.33 525.50,471.24 525.60,471.14 525.70,471.05 525.80,470.94 525.90,470.84 526.00,470.73 526.10,470.61 526.20,470.49 526.30,470.37 526.40,470.25 526.50,470.11 526.60,469.98 526.70,469.84 526.80,469.69 526.90,469.54 527.00,469.39 527.10,469.23 527.20,469.07 527.30,468.90 527.40,468.73 527.50,468.56 527.60,468.38 527.70,468.19 527.80,468.01 527.90,467.82 528.00,467.63 528.10,467.44 528.20,467.25 528.30,467.06 528.40,466.87 528.50,466.68 528.60,466.50 528.70,466.32 528.80,466.15 528.90,465.98 529.00,465.82 529.10,465.68 529.20,465.54 529.30,465.42 529.40,465.31 529.50,465.21 529.60,465.13 529.70,462.60 529.80,451.63 529.90,441.48 530.00,432.11 530.10,423.49 530.20,415.59 530.30,408.38 530.40,401.81 530.50,395.88 530.60,390.54 530.70,385.75 530.80,381.50 530.90,377.75 531.00,374.47 531.10,371.62 531.20,369.18 531.30,367.12 531.40,365.40 531.50,363.99 531.60,362.86 531.70,361.98 531.80,361.32 531.90,360.85 532.00,360.53 532.10,360.34 532.20,360.24 532.30,360.20 532.40,360.19 532.50,360.20 532.60,360.24 532.70,360.34 532.80,360.53 532.90,360.85 533.00,361.32 533.10,361.98 533.20,362.86 533.30,363.99 533.40,365.40 533.50,367.12 533.60,369.18 533.70,371.62 533.80,374.47 533.90,377.75 534.00,381.50 534.10,385.75 534.20,390.54 534.30,395.88 534.40,401.81 534.50,408.38 534.60,415.59 534.70,423.49 534.80,432.11 534.90,441.48 535.00,451.63 535.10,462.60 535.20,464.99 535.30,464.99 535.40,464.99 535.50,464.99 535.60,464.99 535.70,464.99 535.80,464.99 535.90,464.99 536.00,464.99 536.10,464.99 536.20,464.99 536.30,464.99 536.40,464.99 536.50,464.99 536.60,464.99 536.70,464.99 536.80,464.99 536.90,464.99 537.00,468.12 537.10,468.12 537.20,468.12 537.30,468.12 537.40,468.12 537.50,468.12 537.60,468.12 537.70,468.12 537.80,468.12 537.90,468.12 538.00,468.12 538.10,468.12 538.20,468.12 538.30,468.12 538.40,468.12 538.50,468.12 538.60,468.12 538.70,468.12 538.80,468.12 538.90,468.12 539.00,468.12 539.10,468.12 539.20,468.12 539.30,468.12 539.40,468.12 539.50,464.99 539.60,464.99 539.70,464.99 539.80,464.99 539.90,464.99 540.00,464.99 540.10,464.99 540.20,464.99 540.30,462.51 540.40,451.41 540.50,441.07 540.60,431.47 540.70,422.58 540.80,414.38 540.90,406.83 541.00,399.91 541.10,393.60 541.20,387.85 541.30,382.65 541.40,377.98 541.50,373.79 541.60,370.07 541.70,366.78 541.80,363.91 541.90,361.42 542.00,359.28 542.10,357.47 542.20,355.97 542.30,354.73 542.40,353.74 542.50,352.97 542.60,352.39 542.70,351.98 542.80,351.70 542.90,351.53 543.00,351.45 543.10,351.41 543.20,351.41 543.30,351.41 543.40,351.45 543.50,351.53 543.60,351.70 543.70,351.98 543.80,352.39 543.90,352.97 544.00,353.74 544.10,354.73 544.20,355.97 544.30,357.47 544.40,359.28 544.50,361.42 544.60,363.91 544.70,366.78 544.80,370.07 544.90,373.79 545.00,377.98 545.10,382.65 545.20,387.85 545.30,393.60 545.40,399.91 545.50,406.83 545.60,414.38 545.70,422.58 545.80,431.47 545.90,441.07 546.00,451.41 546.10,462.51 546.20,465.04 546.30,465.09 546.40,465.18 546.50,465.28 546.60,465.40 546.70,465.54 546.80,465.70 546.90,465.87 547.00,466.05 547.10,466.25 547.20,466.45 547.30,466.66 547.40,466.87 547.50,467.09 547.60,467.30 547.70,467.52 547.80,467.74 547.90,467.96 548.00,468.17 548.10,468.38 548.20,468.58 548.30,468.78 548.40,468.97 548.50,469.16 548.60,469.35 548.70,469.52 548.80,469.69 548.90,469.86 549.00,470.02 549.10,470.17 549.20,470.32 549.30,470.46 549.40,470.60 549.50,470.73 549.60,470.85 549.70,470.97 549.80,471.09 549.90,471.20 550.00,471.30 550.10,471.41 550.20,471.50 550.30,471.60 550.40,471.69 550.50,471.77 550.60,471.86 550.70,471.93" fill="none" stroke="#1010ff" stroke-width="1.05" stroke-linejoin="round" />
<line x1="53.5" y1="349" x2="53.5" y2="475" stroke="#000" stroke-width="1.15" stroke-dasharray="2,1.1"/>
<line x1="110.6" y1="349" x2="110.6" y2="475" stroke="#000" stroke-width="1.15" stroke-dasharray="2,1.1"/>
<line x1="119.8" y1="349" x2="119.8" y2="475" stroke="#000" stroke-width="1.15" stroke-dasharray="2,1.1"/>
<line x1="322.2" y1="349" x2="322.2" y2="475" stroke="#000" stroke-width="1.15" stroke-dasharray="2,1.1"/>
<line x1="331.7" y1="349" x2="331.7" y2="475" stroke="#000" stroke-width="1.15" stroke-dasharray="2,1.1"/>
<line x1="476.6" y1="349" x2="476.6" y2="475" stroke="#000" stroke-width="1.15" stroke-dasharray="2,1.1"/>
<line x1="533.3" y1="349" x2="533.3" y2="475" stroke="#000" stroke-width="1.15" stroke-dasharray="2,1.1"/>
<line x1="542.8" y1="349" x2="542.8" y2="475" stroke="#000" stroke-width="1.15" stroke-dasharray="2,1.1"/>
<text transform="translate(0,532.9) scale(1,1.03)" x="1.40" y="0" class="cap" font-weight="bold" textLength="39.20" lengthAdjust="spacingAndGlyphs">Fig.</text>
<text transform="translate(0,532.9) scale(1,1.03)" x="50.65" y="0" class="cap" font-weight="bold" textLength="13.70" lengthAdjust="spacingAndGlyphs">4</text>
<text transform="translate(0,532.9) scale(1,1.03)" x="64.90" y="0" class="cap" textLength="3.70" lengthAdjust="spacingAndGlyphs">.</text>
<text transform="translate(0,532.9) scale(1,1.03)" x="85.65" y="0" class="cap" textLength="81.95" lengthAdjust="spacingAndGlyphs">Sources</text>
<text transform="translate(0,532.9) scale(1,1.03)" x="176.90" y="0" class="cap" textLength="19.95" lengthAdjust="spacingAndGlyphs">at</text>
<text transform="translate(0,532.9) scale(1,1.03)" x="203.15" y="0" class="cap" textLength="43.70" lengthAdjust="spacingAndGlyphs">60°,</text>
<text transform="translate(0,532.9) scale(1,1.03)" x="256.90" y="0" class="cap" textLength="36.20" lengthAdjust="spacingAndGlyphs">90°</text>
<text transform="translate(0,532.9) scale(1,1.03)" x="303.15" y="0" class="cap" textLength="37.45" lengthAdjust="spacingAndGlyphs">and</text>
<text transform="translate(0,532.9) scale(1,1.03)" x="348.15" y="0" class="cap" textLength="43.70" lengthAdjust="spacingAndGlyphs">95°.</text>
<text transform="translate(0,532.9) scale(1,1.03)" x="408.15" y="0" class="cap" textLength="44.95" lengthAdjust="spacingAndGlyphs">Top:</text>
<text transform="translate(0,532.9) scale(1,1.03)" x="466.40" y="0" class="cap" textLength="71.45" lengthAdjust="spacingAndGlyphs">RMSE</text>
<text transform="translate(0,532.9) scale(1,1.03)" x="545.10" y="0" class="cap" textLength="56.10" lengthAdjust="spacingAndGlyphs">[deg]</text>
<text transform="translate(0,532.9) scale(1,1.03)" x="610.80" y="0" class="cap" textLength="29.20" lengthAdjust="spacingAndGlyphs">vs.</text>
<text transform="translate(0,565.8) scale(1,1.03)" x="1.40" y="0" class="cap" textLength="46.70" lengthAdjust="spacingAndGlyphs">SNR</text>
<text transform="translate(0,565.8) scale(1,1.03)" x="58.15" y="0" class="cap" textLength="52.95" lengthAdjust="spacingAndGlyphs">[dB];</text>
<text transform="translate(0,565.8) scale(1,1.03)" x="119.70" y="0" class="cap" textLength="84.60" lengthAdjust="spacingAndGlyphs">Bottom:</text>
<text transform="translate(0,565.8) scale(1,1.03)" x="213.15" y="0" class="cap" textLength="77.45" lengthAdjust="spacingAndGlyphs">Spectra</text>
<text transform="translate(0,565.8) scale(1,1.03)" x="298.15" y="0" class="cap" textLength="30.55" lengthAdjust="spacingAndGlyphs">for</text>
<text transform="translate(0,565.8) scale(1,1.03)" x="335.00" y="0" class="cap" textLength="11.85" lengthAdjust="spacingAndGlyphs">a</text>
<text transform="translate(0,565.8) scale(1,1.03)" x="353.15" y="0" class="cap" textLength="114.95" lengthAdjust="spacingAndGlyphs">realization</text>
<text transform="translate(0,565.8) scale(1,1.03)" x="471.90" y="0" class="cap" textLength="18.70" lengthAdjust="spacingAndGlyphs">at</text>
<text transform="translate(0,565.8) scale(1,1.03)" x="496.40" y="0" class="cap" textLength="49.70" lengthAdjust="spacingAndGlyphs">SNR</text>
<text transform="translate(0,565.8) scale(1,1.03)" x="553.40" y="0" class="cap" textLength="24.70" lengthAdjust="spacingAndGlyphs">30</text>
<text transform="translate(0,565.8) scale(1,1.03)" x="584.40" y="0" class="cap" textLength="36.20" lengthAdjust="spacingAndGlyphs">dB.</text>
<line x1="16.5" y1="597.5" x2="205.0" y2="597.5" stroke="#ececec" stroke-width="1"/>
<line x1="16.5" y1="622.5" x2="205.0" y2="622.5" stroke="#ececec" stroke-width="1"/>
<line x1="53.5" y1="590.5" x2="53.5" y2="631" stroke="#a0a0a0" stroke-width="1"/>
<line x1="91.5" y1="590.5" x2="91.5" y2="631" stroke="#a0a0a0" stroke-width="1"/>
<line x1="129.5" y1="590.5" x2="129.5" y2="631" stroke="#ececec" stroke-width="1"/>
<line x1="167.5" y1="590.5" x2="167.5" y2="631" stroke="#ececec" stroke-width="1"/>
<line x1="15.9" y1="590.5" x2="205.6" y2="590.5" stroke="#000" stroke-width="1.4"/>
<text x="12.5" y="599" class="tiny" text-anchor="end">1.0</text>
<text x="12.5" y="624" class="tiny" text-anchor="end">0.8</text>
<line x1="227.5" y1="597.5" x2="416.0" y2="597.5" stroke="#ececec" stroke-width="1"/>
<line x1="227.5" y1="622.5" x2="416.0" y2="622.5" stroke="#ececec" stroke-width="1"/>
<line x1="265.5" y1="590.5" x2="265.5" y2="631" stroke="#ececec" stroke-width="1"/>
<line x1="303.5" y1="590.5" x2="303.5" y2="631" stroke="#ececec" stroke-width="1"/>
<line x1="341.5" y1="590.5" x2="341.5" y2="631" stroke="#a0a0a0" stroke-width="1"/>
<line x1="379.5" y1="590.5" x2="379.5" y2="631" stroke="#a0a0a0" stroke-width="1"/>
<line x1="226.9" y1="590.5" x2="416.6" y2="590.5" stroke="#000" stroke-width="1.4"/>
<text x="223.5" y="599" class="tiny" text-anchor="end">1</text>
<text x="223.5" y="624" class="tiny" text-anchor="end">0.8</text>
<line x1="439.5" y1="597.5" x2="628.0" y2="597.5" stroke="#ececec" stroke-width="1"/>
<line x1="439.5" y1="622.5" x2="628.0" y2="622.5" stroke="#ececec" stroke-width="1"/>
<line x1="476.5" y1="590.5" x2="476.5" y2="631" stroke="#ececec" stroke-width="1"/>
<line x1="514.5" y1="590.5" x2="514.5" y2="631" stroke="#ececec" stroke-width="1"/>
<line x1="552.5" y1="590.5" x2="552.5" y2="631" stroke="#ececec" stroke-width="1"/>
<line x1="590.5" y1="590.5" x2="590.5" y2="631" stroke="#ececec" stroke-width="1"/>
<line x1="438.9" y1="590.5" x2="628.6" y2="590.5" stroke="#000" stroke-width="1.4"/>
<text x="435.5" y="599" class="tiny" text-anchor="end">1.0</text>
<text x="435.5" y="624" class="tiny" text-anchor="end">0.8</text>
<line x1="16.5" y1="590.5" x2="16.5" y2="631" stroke="#000" stroke-width="1.3"/>
<line x1="439.5" y1="590.5" x2="439.5" y2="631" stroke="#000" stroke-width="1.3"/>
<text x="110.3" y="588" class="ttl" text-anchor="middle" textLength="20.6" lengthAdjust="spacingAndGlyphs">Bartlett</text>
<text x="321.6" y="588" class="ttl" text-anchor="middle" textLength="17.7" lengthAdjust="spacingAndGlyphs">Sparse</text>
<text x="533.4" y="588" class="ttl" text-anchor="middle" textLength="27.4" lengthAdjust="spacingAndGlyphs">Our model</text>
<path d="M61.90 631.00C62.17 627.83 62.90 617.17 63.50 612.00C64.10 606.83 64.97 602.58 65.50 600.00C66.03 597.42 66.20 596.50 66.70 596.50C67.20 596.50 67.87 597.08 68.50 600.00C69.13 602.92 69.88 608.83 70.50 614.00C71.12 619.17 71.92 628.17 72.20 631.00" fill="none" stroke="#ff1a1a" stroke-width="1.35" stroke-dasharray="4.5,1.6" />
<line x1="285.3" y1="596.5" x2="285.3" y2="631" stroke="#1a8a1a" stroke-width="1.2"/>
<polyline points="476.00,722.30 476.10,722.30 476.20,722.30 476.30,722.30 476.40,722.30 476.50,722.30 476.60,722.30 476.70,722.30 476.80,722.30 476.90,722.30 477.00,722.30 477.10,722.30 477.20,722.30 477.30,722.30 477.40,722.30 477.50,722.30 477.60,722.30 477.70,722.30 477.80,722.30 477.90,722.30 478.00,722.30 478.10,722.30 478.20,722.30 478.30,722.30 478.40,722.30 478.50,722.30 478.60,722.30 478.70,722.30 478.80,722.30 478.90,722.30 479.00,710.16 479.10,698.84 479.20,688.29 479.30,678.50 479.40,669.43 479.50,661.06 479.60,653.35 479.70,646.29 479.80,639.85 479.90,633.99 480.00,628.68 480.10,623.91 480.20,619.64 480.30,615.84 480.40,612.49 480.50,609.55 480.60,607.01 480.70,604.83 480.80,602.99 480.90,601.45 481.00,600.19 481.10,599.18 481.20,598.39 481.30,597.80 481.40,597.38 481.50,597.10 481.60,596.93 481.70,596.84 481.80,596.80 481.90,596.80 482.00,596.80 482.10,596.84 482.20,596.93 482.30,597.10 482.40,597.38 482.50,597.80 482.60,598.39 482.70,599.18 482.80,600.19 482.90,601.45 483.00,602.99 483.10,604.83 483.20,607.01 483.30,609.55 483.40,612.49 483.50,615.84 483.60,619.64 483.70,623.91 483.80,628.68 483.90,633.99 484.00,639.85 484.10,646.29 484.20,653.35 484.30,661.06 484.40,669.43 484.50,678.50 484.60,688.29 484.70,698.84 484.80,710.16 484.90,722.30 485.00,722.30 485.10,722.30 485.20,722.30 485.30,722.30 485.40,722.30 485.50,722.30 485.60,722.30 485.70,722.30 485.80,722.30 485.90,722.30 486.00,722.30 486.10,722.30 486.20,722.30 486.30,722.30 486.40,722.30 486.50,722.30 486.60,722.30 486.70,722.30 486.80,722.30 486.90,722.30 487.00,722.30 487.10,710.88 487.20,700.33 487.30,690.63 487.40,681.74 487.50,673.61 487.60,666.23 487.70,659.55 487.80,653.54 487.90,648.16 488.00,643.37 488.10,639.15 488.20,635.46 488.30,632.25 488.40,629.51 488.50,627.18 488.60,625.25 488.70,623.66 488.80,622.39 488.90,621.40 489.00,620.65 489.10,620.12 489.20,619.76 489.30,619.55 489.40,619.44 489.50,619.40 489.60,619.39 489.70,619.40 489.80,619.44 489.90,619.55 490.00,619.76 490.10,620.12 490.20,620.65 490.30,621.40 490.40,622.39 490.50,623.66 490.60,625.25 490.70,627.18 490.80,629.51 490.90,632.25 491.00,635.46 491.10,639.15 491.20,643.37 491.30,648.16 491.40,653.54 491.50,659.55 491.60,666.23 491.70,673.61 491.80,681.74 491.90,690.63 492.00,700.33 492.10,710.88 492.20,722.30 492.30,722.30 492.40,722.30 492.50,722.30 492.60,722.30 492.70,722.30 492.80,722.30 492.90,722.30 493.00,722.30 493.10,722.30 493.20,722.30 493.30,722.30 493.40,722.30 493.50,722.30 493.60,722.30 493.70,722.30 493.80,722.30 493.90,722.30 494.00,722.30 494.10,722.30 494.20,722.30 494.30,722.30 494.40,722.30 494.50,722.30 494.60,722.30 494.70,722.30 494.80,722.30 494.90,722.30 495.00,722.30 495.10,722.30 495.20,722.30 495.30,722.30 495.40,722.30 495.50,722.30 495.60,722.30 495.70,722.30 495.80,722.30 495.90,722.30 496.00,722.30 496.10,710.29 496.20,699.07 496.30,688.63 496.40,678.93 496.50,669.96 496.60,661.67 496.70,654.04 496.80,647.05 496.90,640.67 497.00,634.87 497.10,629.62 497.20,624.89 497.30,620.66 497.40,616.90 497.50,613.59 497.60,610.68 497.70,608.16 497.80,606.01 497.90,604.18 498.00,602.66 498.10,601.41 498.20,600.41 498.30,599.63 498.40,599.05 498.50,598.63 498.60,598.35 498.70,598.18 498.80,598.09 498.90,598.06 499.00,598.05 499.10,598.06 499.20,598.09 499.30,598.18 499.40,598.35 499.50,598.63 499.60,599.05 499.70,599.63 499.80,600.41 499.90,601.41 500.00,602.66 500.10,604.18 500.20,606.01 500.30,608.16 500.40,610.68 500.50,613.59 500.60,616.90 500.70,620.66 500.80,624.89 500.90,629.62 501.00,634.87 501.10,640.67 501.20,647.05 501.30,654.04 501.40,661.67 501.50,669.96 501.60,678.93 501.70,688.63 501.80,699.07 501.90,710.29 502.00,722.30 502.10,722.30 502.20,722.30 502.30,722.30 502.40,722.30 502.50,722.30 502.60,722.30 502.70,722.30 502.80,722.30 502.90,722.30 503.00,722.30 503.10,722.30 503.20,722.30 503.30,722.30 503.40,722.30 503.50,722.30 503.60,722.30 503.70,722.30 503.80,722.30 503.90,722.30 504.00,722.30 504.10,722.30 504.20,722.30 504.30,722.30 504.40,722.30 504.50,722.30 504.60,722.30 504.70,722.30 504.80,722.30 504.90,722.30" fill="none" stroke="#1818ff" stroke-width="1.05" stroke-linejoin="round" />
<line x1="59.3" y1="598" x2="59.3" y2="631" stroke="#000" stroke-width="1.15" stroke-dasharray="2,1.1"/>
<line x1="66.7" y1="598" x2="66.7" y2="631" stroke="#000" stroke-width="1.15" stroke-dasharray="2,1.1"/>
<line x1="76.1" y1="598" x2="76.1" y2="631" stroke="#000" stroke-width="1.15" stroke-dasharray="2,1.1"/>
<line x1="270.5" y1="598" x2="270.5" y2="631" stroke="#cfcfcf" stroke-width="1.15" stroke-dasharray="2,1.1"/>
<line x1="277.5" y1="598" x2="277.5" y2="631" stroke="#000" stroke-width="1.15" stroke-dasharray="2,1.1"/>
<line x1="288.2" y1="598" x2="288.2" y2="631" stroke="#cfcfcf" stroke-width="1.15" stroke-dasharray="2,1.1"/>
<line x1="482.4" y1="598" x2="482.4" y2="631" stroke="#000" stroke-width="1.15" stroke-dasharray="2,1.1"/>
<line x1="489.6" y1="598" x2="489.6" y2="631" stroke="#000" stroke-width="1.15" stroke-dasharray="2,1.1"/>
<line x1="499.4" y1="598" x2="499.4" y2="631" stroke="#000" stroke-width="1.15" stroke-dasharray="2,1.1"/>
</svg></body></html>
